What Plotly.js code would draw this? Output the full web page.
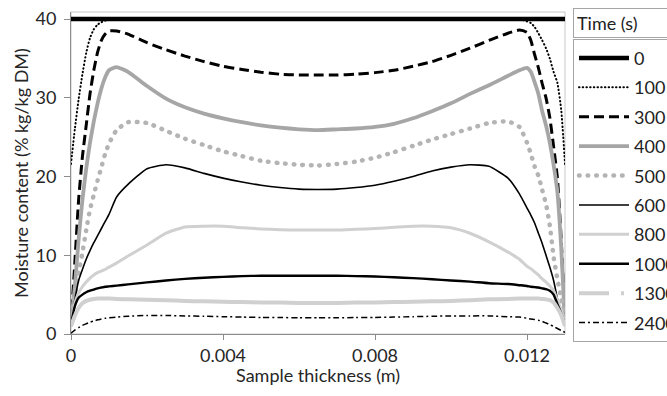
<!DOCTYPE html>
<html>
<head>
<meta charset="utf-8">
<script src="https://cdn.plot.ly/plotly-3.0.1.min.js"></script>
<style>
html,body{margin:0;padding:0;background:#fff;}
#chart{width:667px;height:396px;}
</style>
</head>
<body>
<div id="chart"></div>
<script>
// Sample thickness (m)
var thickness = [0,0.0001,0.0002,0.0003,0.0004,0.0005,0.0006,0.0007,0.0008,0.0009,0.001,0.0012,0.0015,
  0.002,0.0025,0.003,0.0035,0.004,0.0045,0.005,0.0055,0.006,0.0065,0.007,0.0075,0.008,0.0085,0.009,0.0095,
  0.01,0.0105,0.011,0.0115,0.0118,0.012,0.0121,0.0122,0.0123,0.0124,0.0125,0.0126,0.0127,0.0128,0.0129,0.013];
var thicknessEnds = [0, 0.013];

// Moisture content (% kg/kg DM) per drying time
var t0 = [40, 40];
var t100 = [21.6,26,29.8,33,35.7,37.6,38.7,39.3,39.6,39.8,39.9,40,40,
  40,40,40,40,40,40,40,40,40,40,40,40,40,40,40,40,
  40,40,40,40,40,39.7,39.5,39.0,38.2,37.3,36.3,35.0,33.3,31.9,28.5,21.6];
var t300 = [1.2,9,17,22.5,26.5,30.5,33.5,35.8,37.3,38.1,38.5,38.5,38.1,
  37.0,36.1,35.3,34.6,34.0,33.6,33.25,33.0,32.9,32.9,32.9,33.0,33.2,33.5,34.0,34.6,
  35.4,36.3,37.3,38.2,38.6,38.3,37.3,35.5,33.8,31.8,30.0,27.5,23.8,19.8,12,1.3];
var t400 = [1.2,6,12,17,21,24.3,27,29.3,31.2,32.6,33.5,33.9,33.3,
  31.5,29.9,28.8,28.0,27.4,26.9,26.5,26.2,26.0,25.9,26.0,26.1,26.3,26.7,27.4,28.3,
  29.3,30.5,31.6,32.8,33.5,33.8,33.3,32.0,30.5,28.3,26.5,24.3,21.5,18,11,1.3];
var t500 = [1.2,4.8,7.8,10.3,13.2,15.8,17.7,19.5,21.2,22.9,24.2,25.9,26.9,
  26.8,25.8,24.8,24.0,23.2,22.6,22.0,21.7,21.5,21.4,21.6,21.9,22.4,23.1,23.9,24.7,
  25.4,26.1,26.8,27.0,26.3,24.3,22.9,21.3,20.1,18.3,16.5,13.8,9.8,7.0,4.5,1.2];
var t600 = [1.2,4.3,6.8,8.2,9.5,10.6,11.6,12.5,13.4,14.3,15.2,17.4,19.0,
  21.0,21.5,21.1,20.4,19.8,19.3,18.9,18.6,18.4,18.35,18.4,18.6,18.9,19.4,20.0,20.7,
  21.2,21.5,21.3,19.8,17.8,16.0,15.1,14.1,12.8,11.5,10.0,8.5,6.8,4.5,2.6,1.3];
var t800 = [1.2,3.9,5.2,6.0,6.6,7.1,7.5,7.8,8.0,8.2,8.5,9.0,9.9,
  11.3,12.8,13.6,13.7,13.7,13.5,13.35,13.25,13.2,13.2,13.2,13.3,13.4,13.55,13.7,13.7,
  13.5,12.8,11.7,10.4,9.5,8.6,8.3,7.9,7.5,7.0,6.6,6.1,5.5,4.3,3.0,1.3];
var t1000 = [1.2,3.5,4.6,5.0,5.3,5.5,5.65,5.8,5.9,6.0,6.05,6.15,6.3,
  6.55,6.8,7.0,7.15,7.25,7.35,7.4,7.4,7.4,7.4,7.4,7.35,7.3,7.2,7.1,6.95,
  6.8,6.65,6.45,6.35,6.2,6.1,6.0,5.95,5.9,5.8,5.7,5.5,5.0,3.8,2.6,1.3];
var t1300 = [1.0,2.3,3.3,3.9,4.2,4.35,4.45,4.5,4.5,4.5,4.5,4.45,4.4,
  4.35,4.3,4.2,4.15,4.1,4.05,4.0,4.0,3.95,3.95,3.95,4.0,4.0,4.05,4.1,4.15,
  4.2,4.3,4.4,4.45,4.5,4.5,4.5,4.5,4.5,4.45,4.4,4.3,4.0,3.3,2.4,1.0];
var t2400 = [0.1,0.5,0.8,1.1,1.3,1.5,1.65,1.8,1.9,2.0,2.05,2.15,2.25,
  2.35,2.35,2.3,2.25,2.2,2.15,2.1,2.1,2.05,2.05,2.05,2.1,2.1,2.15,2.2,2.25,
  2.3,2.3,2.3,2.2,2.15,2.0,1.9,1.85,1.75,1.6,1.4,1.2,0.95,0.7,0.45,0.2];

var seriesNames = ['0','100','300','400','500','600','800','1000','1300','2400'];
var xTickVals = [0, 0.004, 0.008, 0.012];
var xTickText = ['0', '0.004', '0.008', '0.012'];
var yTickVals = [0, 10, 20, 30, 40];

var FONT = 'Lato, "Open Sans", sans-serif';
var FS = 18;
var BLACK = '#000000', GREY = '#a6a6a6', DOTGREY = '#b4b4b4', LIGHT = '#d0d0d0';

function tr(name, x, y, line, extra) {
  var t = {type:'scatter', mode:'lines', name:name, x:x, y:y, line:line,
           legendgroup:'g'+name, hoverinfo:'skip'};
  if (extra) for (var k in extra) t[k] = extra[k];
  return t;
}
function L(o){ var r = {shape:'spline', smoothing:0.5}; for (var k in o) r[k]=o[k]; return r; }

var traces = [
  tr(seriesNames[0], thicknessEnds, t0, {color:BLACK, width:4.5}),
  tr(seriesNames[1], thickness, t100, L({color:BLACK, width:2, dash:'0.5px,3.2px'})),
  tr(seriesNames[2], thickness, t300, L({color:BLACK, width:3, dash:'10px,5px'})),
  tr(seriesNames[3], thickness, t400, L({color:GREY, width:3.8})),
  tr(seriesNames[4], thickness, t500, L({color:DOTGREY, width:4.5, dash:'0.6px,8px'})),
  tr(seriesNames[5], thickness, t600, L({color:BLACK, width:1.6})),
  tr(seriesNames[6], thickness, t800, L({color:LIGHT, width:3})),
  tr(seriesNames[7], thickness, t1000, L({color:BLACK, width:2.4})),
  tr(seriesNames[8], thickness, t1300, L({color:LIGHT, width:4}), {showlegend:false}),
  tr(seriesNames[8], [null], [null], {color:LIGHT, width:4, dash:'30px,12px,3px,12px'}),
  tr(seriesNames[9], thickness, t2400, L({color:BLACK, width:1.5, dash:'6px,3px,2px,3px'}))
];

var layout = {
  width:667, height:396,
  margin:{l:71, r:102, t:12, b:62, autoexpand:false},
  paper_bgcolor:'#fff', plot_bgcolor:'#fff',
  font:{family:FONT, size:FS, color:'#333'},
  showlegend:true,
  legend:{x:1.0162, xanchor:'left', y:0.917, yanchor:'top',
    bordercolor:'#a6a6a6', borderwidth:1, bgcolor:'#fff',
    font:{family:FONT, size:FS, color:'#222'},
    traceorder:'grouped', tracegroupgap:3, itemwidth:50},
  xaxis:{range:[0,0.013], tickvals:xTickVals, ticktext:xTickText,
    ticks:'outside', ticklen:5, tickcolor:'#8c8c8c', tickwidth:1,
    showline:true, linecolor:'#8c8c8c', linewidth:1, showgrid:false, zeroline:false,
    tickfont:{family:FONT, size:FS, color:'#262626'}},
  yaxis:{range:[0,40.9], tickvals:yTickVals,
    ticks:'outside', ticklen:6, tickcolor:'#8c8c8c', tickwidth:1,
    showline:true, linecolor:'#8c8c8c', linewidth:1, showgrid:false, zeroline:false,
    tickfont:{family:FONT, size:FS, color:'#262626'}, ticklabelstandoff:4,
    title:{text:'Moisture content (% kg/kg DM)', font:{family:FONT, size:FS, color:'#262626'}, standoff:2}},
  shapes:[{type:'rect', xref:'paper', yref:'paper', x0:0, x1:1, y0:0, y1:1,
    line:{color:'#c8c8c8', width:1}, layer:'below'}],
  annotations:[
    {text:'Time (s)', xref:'paper', yref:'paper', x:1.0162, y:1.0124,
    xanchor:'left', yanchor:'top', showarrow:false, align:'left',
    width:110, height:22, borderpad:3, bordercolor:'#a6a6a6', borderwidth:1, bgcolor:'#fff',
    font:{family:FONT, size:FS, color:'#222'}},
    {text:'Sample thickness (m)', xref:'paper', yref:'paper', x:0.5, y:-0.127,
    xanchor:'center', yanchor:'middle', showarrow:false,
    font:{family:FONT, size:FS, color:'#262626'}}]
};

Plotly.newPlot('chart', traces, layout, {staticPlot:true, displayModeBar:false}).then(function(){
  document.querySelectorAll('path.js-line').forEach(function(p){
    var d = p.style.strokeDasharray || '';
    if (d.indexOf('0.5px') === 0 || d.indexOf('0.6px') === 0) p.style.strokeLinecap = 'round';
  });
});
</script>
</body>
</html>
